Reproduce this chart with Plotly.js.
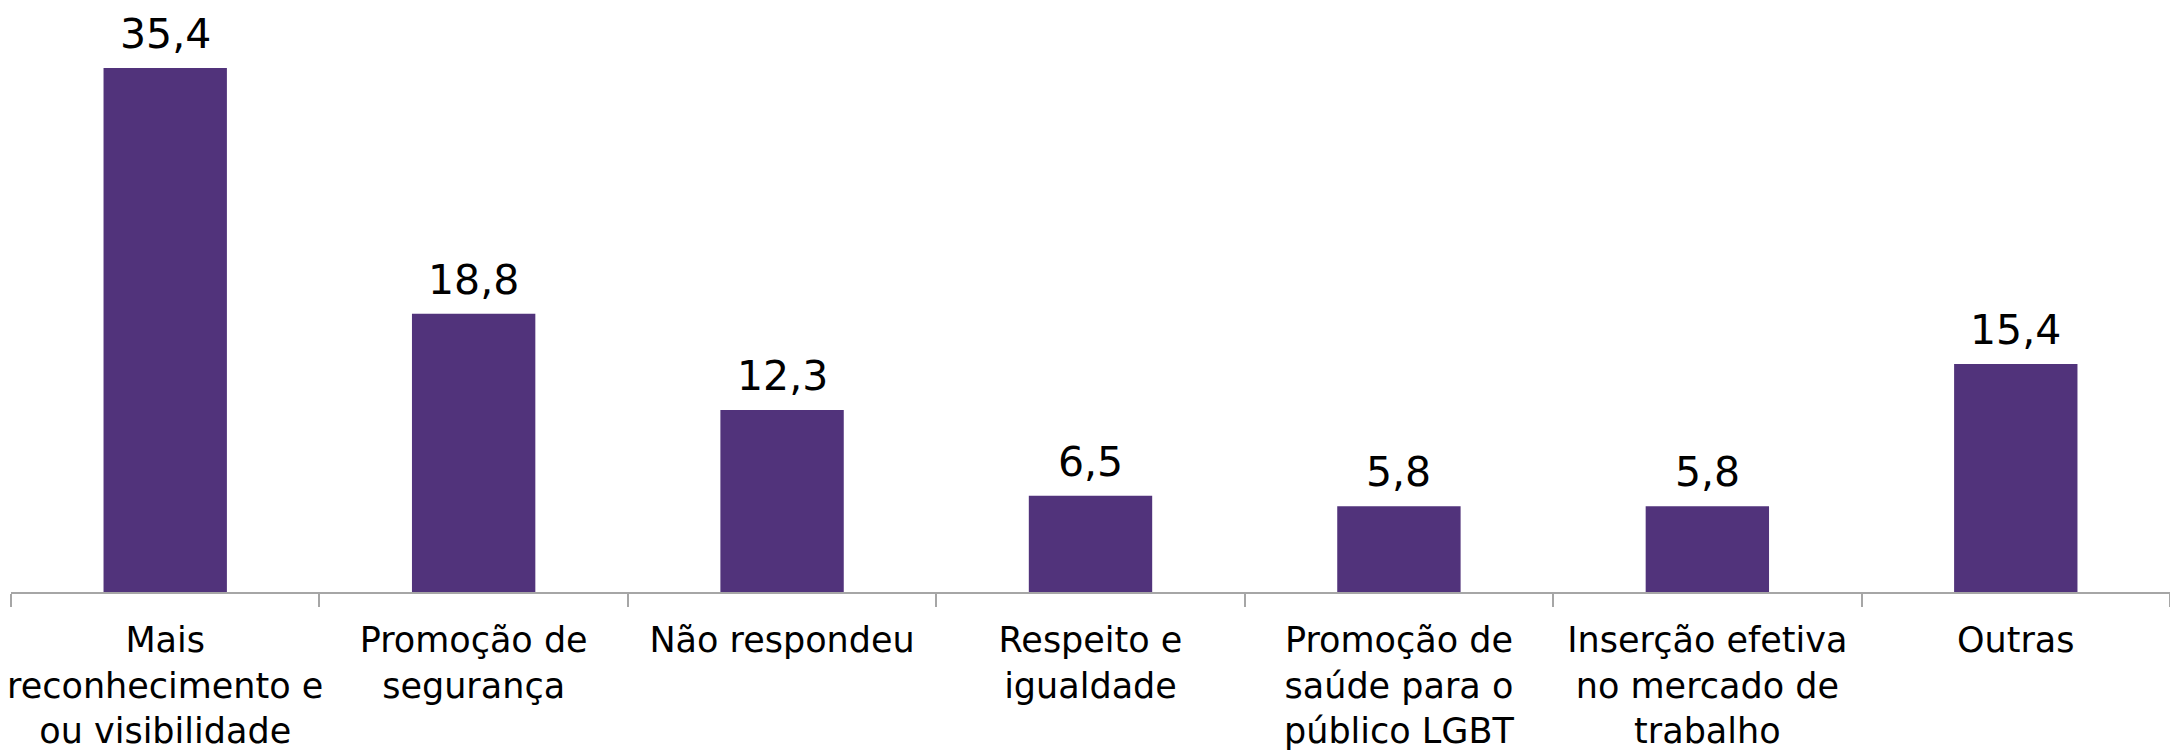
<!DOCTYPE html>
<html>
<head>
<meta charset="utf-8">
<script src="https://cdn.plot.ly/plotly-3.0.1.min.js"></script>
<style>html,body{margin:0;padding:0;background:#fff;}#chart{width:2170px;height:753px;}</style>
</head>
<body>
<div id="chart"></div>
<script>
const categories = [
  "Mais<br>reconhecimento e<br>ou visibilidade",
  "Promoção de<br>segurança",
  "Não respondeu",
  "Respeito e<br>igualdade",
  "Promoção de<br>saúde para o<br>público LGBT",
  "Inserção efetiva<br>no mercado de<br>trabalho",
  "Outras"
];
const values = [35.4, 18.8, 12.3, 6.5, 5.8, 5.8, 15.4];
const valueLabels = ["35,4", "18,8", "12,3", "6,5", "5,8", "5,8", "15,4"];

const FONT = '"DejaVu Sans", Verdana, sans-serif';

const trace = {
  type: 'bar',
  x: categories,
  y: values,
  marker: {color: '#51337B'},
  hoverinfo: 'skip'
};

const annotations = categories.map((c, i) => ({
  x: c, y: values[i], xref: 'x', yref: 'y',
  text: valueLabels[i], showarrow: false,
  yanchor: 'bottom', xanchor: 'center', yshift: 8,
  font: {family: FONT, size: 41, color: '#000'}
}));

const layout = {
  width: 2170, height: 753,
  margin: {l: 11, r: 0, t: 0, b: 161},
  paper_bgcolor: '#fff', plot_bgcolor: '#fff',
  bargap: 0.6,
  showlegend: false,
  font: {family: FONT, size: 35, color: '#000'},
  annotations: annotations,
  xaxis: {
    type: 'category',
    tickson: 'boundaries',
    ticks: 'outside', ticklen: 13, tickcolor: '#a6a6a6', tickwidth: 2,
    showline: true, linecolor: '#a6a6a6', linewidth: 2,
    showgrid: false,
    tickfont: {family: FONT, size: 35, color: '#000'},
    tickangle: 0,
    ticklabelstandoff: 16,
    automargin: false
  },
  yaxis: {
    range: [0, 40],
    visible: false,
    showgrid: false,
    zeroline: false
  }
};

Plotly.newPlot('chart', [trace], layout, {displayModeBar: false, staticPlot: true});
</script>
</body>
</html>
